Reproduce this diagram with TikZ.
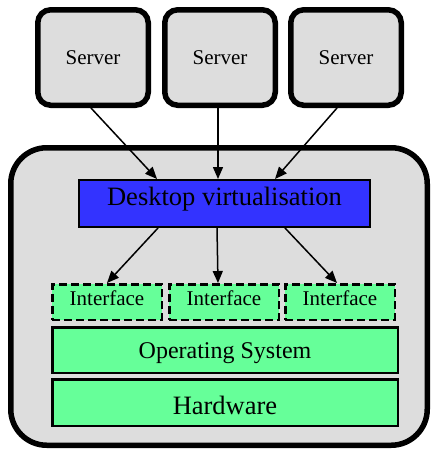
\documentclass[tikz,border=0pt]{standalone}
\usepackage{fontspec}
\setmainfont{Liberation Serif}
\usetikzlibrary{arrows.meta,calc}
\definecolor{boxgray}{HTML}{DDDDDD}
\definecolor{dvblue}{HTML}{3333FF}
\definecolor{layergreen}{HTML}{66FF99}
\newcommand{\placetext}[2]{\raisebox{#1}[0pt][0pt]{#2}}
\tikzset{
  serverbox/.style={draw=black, fill=boxgray, line width=5.5pt, rounded corners=13pt, minimum width=110.5pt, minimum height=95.5pt, inner sep=0pt, font=\fontsize{21}{24}\selectfont},
  outerbox/.style={draw=black, fill=boxgray, line width=5.5pt, rounded corners=36pt, minimum width=416.5pt, minimum height=297.5pt, inner sep=0pt},
  dvbox/.style={draw=black, fill=dvblue, line width=2pt, minimum width=291pt, minimum height=47pt, inner sep=0pt, font=\fontsize{26.5}{30}\selectfont},
  ifbox/.style={draw=black, fill=layergreen, line width=2.5pt, dash pattern=on 8pt off 4pt, minimum width=109.5pt, minimum height=35.5pt, inner sep=0pt, font=\fontsize{21}{24}\selectfont},
  layerbox/.style={draw=black, fill=layergreen, line width=2.5pt, minimum width=345.5pt, minimum height=45.5pt, inner sep=0pt},
  arr/.style={line width=1.5pt, -{Triangle[length=12pt,width=10pt]}}
}
\begin{document}
\begin{tikzpicture}[x=1pt,y=-1pt]
\useasboundingbox (0,0) rectangle (432,451);
\node[outerbox] (outer) at (219,296.5) {};
\node[serverbox] (s1) at (93,57.5) {\placetext{-6.5pt}{Server}};
\node[serverbox] (s2) at (220,57.5) {\placetext{-6.5pt}{Server}};
\node[serverbox] (s3) at (346,57.5) {\placetext{-6.5pt}{Server}};
\node[dvbox] (dv) at (224.5,203.5) {\placetext{-2.3pt}{Desktop virtualisation}};
\node[ifbox] (i1) at (107,302) {\placetext{-3pt}{Interface}};
\node[ifbox] (i2) at (224,302) {\placetext{-3pt}{Interface}};
\node[ifbox] (i3) at (340,302) {\placetext{-3pt}{Interface}};
\node[layerbox, font=\fontsize{24}{28}\selectfont] (os) at (225,350) {\placetext{-8.4pt}{Operating System}};
\node[layerbox, minimum height=46.5pt, font=\fontsize{26.5}{30}\selectfont] (hw) at (225,402.5) {\placetext{-11.8pt}{Hardware}};
\draw[arr] ($(s1.south)+(-2,0)$) -- ($(dv.north)+(-67.5,0)$);
\draw[arr] ($(s2.south)+(-2,0)$) -- ($(dv.north)+(-6.5,0)$);
\draw[arr] ($(s3.south)+(-9,0)$) -- ($(dv.north)+(50.5,0)$);
\draw[arr] ($(dv.south)+(-66.5,0)$) -- ($(i1.north)+(0,0)$);
\draw[arr] ($(dv.south)+(-7.5,0)$) -- ($(i2.north)+(-6,0)$);
\draw[arr] ($(dv.south)+(60.5,0)$) -- ($(i3.north)+(-3,0)$);
\end{tikzpicture}
\end{document}
